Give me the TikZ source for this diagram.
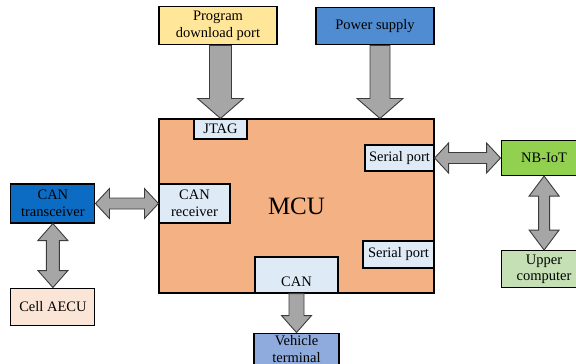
\documentclass[tikz,border=0pt]{standalone}
\usepackage{fontspec}
\setmainfont{Liberation Serif}
\usetikzlibrary{positioning, calc}

\definecolor{progyellow}{RGB}{255,230,153}
\definecolor{powerblue}{RGB}{80,140,210}
\definecolor{mcuorange}{RGB}{244,177,131}
\definecolor{portblue}{RGB}{222,235,247}
\definecolor{cantrblue}{RGB}{12,108,196}
\definecolor{cellpeach}{RGB}{251,229,214}
\definecolor{vehicleblue}{RGB}{143,170,220}
\definecolor{nbgreen}{RGB}{146,208,80}
\definecolor{uppergreen}{RGB}{197,224,180}
\definecolor{arrowgray}{RGB}{166,166,166}
\definecolor{arrowline}{RGB}{60,60,60}

\tikzset{
    box/.style={draw, line width=1.1pt, inner sep=0pt, align=center, font=\fontsize{14.5}{16.5}\selectfont},
    port/.style={box, fill=portblue},
    arrow shaft/.store in=\shafthalf, arrow head/.store in=\headhalf, arrow len/.store in=\tiplen,
    arrow shaft=5.5pt, arrow head=15pt, arrow len=14pt,
    fatarrow/.style={draw=arrowline, fill=arrowgray, line width=0.9pt, line join=miter,
        to path={let \p1=(\tikztostart), \p2=(\tikztotarget),
            \n1={veclen(\x2-\x1,\y2-\y1)}, \n2={\n1-\tiplen},
            \p3=($(\p1)!\n2!(\p2)$) in
            ($(\p1)!\shafthalf!90:(\p2)$) -- ($(\p3)!\shafthalf!90:(\p2)$) -- ($(\p3)!\headhalf!90:(\p2)$) -- (\p2)
            -- ($(\p3)!\headhalf!-90:(\p2)$) -- ($(\p3)!\shafthalf!-90:(\p2)$) -- ($(\p1)!\shafthalf!-90:(\p2)$) -- cycle}},
    fatboth/.style={draw=arrowline, fill=arrowgray, line width=0.9pt, line join=miter,
        to path={let \p1=(\tikztostart), \p2=(\tikztotarget),
            \n1={veclen(\x2-\x1,\y2-\y1)}, \n2={\tiplen}, \n3={\n1-\tiplen},
            \p3=($(\p1)!\n2!(\p2)$), \p4=($(\p1)!\n3!(\p2)$) in
            (\p1) -- ($(\p3)!\headhalf!90:(\p2)$) -- ($(\p3)!\shafthalf!90:(\p2)$) -- ($(\p4)!\shafthalf!90:(\p2)$)
            -- ($(\p4)!\headhalf!90:(\p2)$) -- (\p2) -- ($(\p4)!\headhalf!-90:(\p2)$) -- ($(\p4)!\shafthalf!-90:(\p2)$)
            -- ($(\p3)!\shafthalf!-90:(\p2)$) -- ($(\p3)!\headhalf!-90:(\p2)$) -- cycle}}
}

\begin{document}
\begin{tikzpicture}[x=1pt, y=-1pt]
        \useasboundingbox (0,0) rectangle (576,364);

        \node[box, fill=mcuorange, minimum width=275pt, minimum height=174pt, font=\fontsize{25}{28}\selectfont] (mcu) at (296.5,206) {MCU};
        \node[port, minimum width=53pt, minimum height=20pt, below right=0pt and 35pt of mcu.north west]   (jtag)    {JTAG};
        \node[port, minimum width=69pt, minimum height=26pt, below left=26pt and 0pt of mcu.north east]    (serial1) {Serial port};
        \node[port, minimum width=71pt, minimum height=27pt, above left=25pt and 0pt of mcu.south east]    (serial2) {Serial port};
        \node[port, minimum width=71pt, minimum height=39pt, below right=65pt and 0pt of mcu.north west]   (canrx)   {CAN\\receiver};
        \node[port, minimum width=83pt, minimum height=36pt, text height=22pt, text depth=0pt,
              above right=0pt and 96pt of mcu.south west]                                                  (can)     {CAN};

        \node[box, fill=progyellow, minimum width=118pt, minimum height=38pt, above right=73pt and 0pt of mcu.north west] (prog)  {Program\\download port};
        \node[box, fill=powerblue, minimum width=118pt, minimum height=37pt, above left=73pt and 0pt of mcu.north east]   (power) {Power supply};
        \node[box, fill=nbgreen, minimum width=86pt, minimum height=35pt, right=66pt of serial1]      (nbiot)   {NB-IoT};
        \node[box, fill=uppergreen, minimum width=86pt, minimum height=37pt, below=74pt of nbiot]     (upper)   {Upper\\computer};
        \node[box, fill=cantrblue, minimum width=84pt, minimum height=39pt, left=63pt of canrx]       (cantr)   {CAN\\transceiver};
        \node[box, fill=cellpeach, minimum width=84pt, minimum height=37pt, below=64pt of cantr]      (cell)    {Cell AECU};
        \node[box, fill=vehicleblue, minimum width=85pt, minimum height=40pt, text height=29pt, text depth=11pt,
              below=39pt of can]                                                                      (vehicle) {Vehicle\\terminal};

        \draw[fatarrow, arrow shaft=11pt, arrow head=23pt, arrow len=20pt] (prog.south -| jtag.north) to (jtag.north);
        \draw[fatarrow, arrow shaft=10pt, arrow head=23pt, arrow len=20pt] ([xshift=5pt]power.south) to ([xshift=5pt]power.south |- mcu.north);
        \draw[fatboth] (serial1.east) to (nbiot.west);
        \draw[fatboth] (cantr.east) to (canrx.west);
        \draw[fatboth, arrow shaft=6.5pt, arrow len=17pt] (cantr.south) to (cell.north);
        \draw[fatboth, arrow shaft=5.5pt, arrow len=20pt] (nbiot.south) to (upper.north);
        \draw[fatarrow, arrow shaft=7.5pt, arrow len=17pt] (can.south) to (vehicle.north);
    \end{tikzpicture}
\end{document}
